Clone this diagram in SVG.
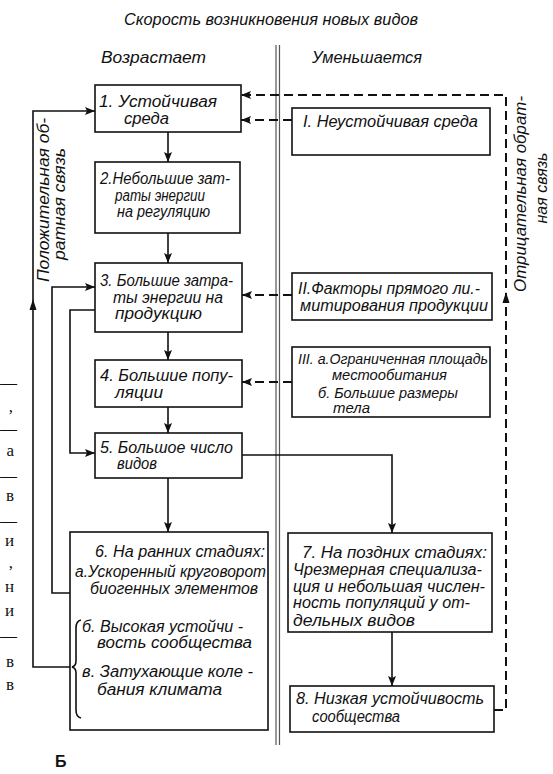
<svg xmlns="http://www.w3.org/2000/svg" width="553" height="774" viewBox="0 0 553 774">
<defs>
<marker id="ah" viewBox="0 0 10 8" refX="10" refY="4" markerWidth="10" markerHeight="8" markerUnits="userSpaceOnUse" orient="auto">
<path d="M0,0 L10,4 L0,8 L2,4 z" fill="#111"/>
</marker>
<style>
.box{fill:#fff;stroke:#111;stroke-width:1.6}
.t{font-family:"Liberation Sans",Arial,sans-serif;font-style:italic;font-size:16px;fill:#111}
.t15{font-family:"Liberation Sans",Arial,sans-serif;font-style:italic;font-size:14.5px;fill:#111}
.h{font-family:"Liberation Sans",Arial,sans-serif;font-style:italic;font-size:17px;fill:#111}
.s{fill:none;stroke:#111;stroke-width:1.6}
.d{fill:none;stroke:#111;stroke-width:2;stroke-dasharray:9 5}
.c{stroke:#555;stroke-width:1.2}
.m{font-family:"Liberation Serif","Times New Roman",serif;font-size:17px;fill:#111}
</style>
</defs>
<rect width="553" height="774" fill="#fff"/>

<g id="headers">
<text class="h" x="124" y="25" textLength="294" lengthAdjust="spacingAndGlyphs">Скорость возникновения новых видов</text>
<text class="h" x="101" y="63" textLength="105" lengthAdjust="spacingAndGlyphs">Возрастает</text>
<text class="h" x="312" y="63" textLength="110" lengthAdjust="spacingAndGlyphs">Уменьшается</text>
</g>

<g id="divider">
<line class="c" x1="276" y1="45" x2="276" y2="745"/>
<line class="c" x1="279.5" y1="45" x2="279.5" y2="745"/>
</g>

<g id="margin-fragments">
<text class="m" x="17" y="388" text-anchor="end">—</text>
<text class="m" x="13" y="412" text-anchor="end">,</text>
<text class="m" x="17" y="434" text-anchor="end">—</text>
<text class="m" x="14" y="456" text-anchor="end">а</text>
<text class="m" x="17" y="481" text-anchor="end">—</text>
<text class="m" x="14" y="501" text-anchor="end">в</text>
<text class="m" x="17" y="526" text-anchor="end">—</text>
<text class="m" x="14" y="546" text-anchor="end">и</text>
<text class="m" x="13" y="568" text-anchor="end">,</text>
<text class="m" x="14" y="592" text-anchor="end">н</text>
<text class="m" x="14" y="616" text-anchor="end">и</text>
<text class="m" x="17" y="641" text-anchor="end">—</text>
<text class="m" x="14" y="667" text-anchor="end">в</text>
<text class="m" x="14" y="690" text-anchor="end">в</text>
</g>

<g id="connectors">
<path class="s" d="M73,667 H33 V111 H95" marker-end="url(#ah)"/>
<polygon points="33,299 29.5,310 36.5,310" fill="#111"/>
<path class="s" d="M70,593 H52 V287 H95" marker-end="url(#ah)"/>
<path class="s" d="M95,310 H70 V453 H95" marker-end="url(#ah)"/>
<path class="s" d="M168,132 V162" marker-end="url(#ah)"/>
<path class="s" d="M168,233 V263" marker-end="url(#ah)"/>
<path class="s" d="M168,332 V360" marker-end="url(#ah)"/>
<path class="s" d="M168,407 V433" marker-end="url(#ah)"/>
<path class="s" d="M168,478 V532" marker-end="url(#ah)"/>
<path class="s" d="M242,455 H392 V533" marker-end="url(#ah)"/>
<path class="s" d="M392,632 V686" marker-end="url(#ah)"/>
<path class="d" d="M494,710 H506 V95 H241" marker-end="url(#ah)"/>
<polygon points="506,292 502.5,303 509.5,303" fill="#111"/>
<path class="d" d="M292,120 H241" marker-end="url(#ah)"/>
<path class="d" d="M292,295 H242" marker-end="url(#ah)"/>
<path class="d" d="M292,382 H242" marker-end="url(#ah)"/>
</g>

<g id="label-positive">
<text class="t" transform="translate(49,200) rotate(-90)" text-anchor="middle" textLength="164" lengthAdjust="spacingAndGlyphs">Положительная об-</text>
<text class="t" transform="translate(65,204) rotate(-90)" text-anchor="middle" textLength="112" lengthAdjust="spacingAndGlyphs">ратная связь</text>
</g>

<g id="label-negative">
<text class="t" transform="translate(526,194) rotate(-90)" text-anchor="middle" textLength="196" lengthAdjust="spacingAndGlyphs">Отрицательная обрат-</text>
<text class="t" transform="translate(547,188) rotate(-90)" text-anchor="middle" textLength="71" lengthAdjust="spacingAndGlyphs">ная связь</text>
</g>

<g id="node1">
<rect class="box" x="95" y="85" width="146" height="47"/>
<text class="t" x="99" y="107" textLength="118" lengthAdjust="spacingAndGlyphs">1. Устойчивая</text>
<text class="t" x="124" y="124" textLength="45" lengthAdjust="spacingAndGlyphs">среда</text>
</g>

<g id="node2">
<rect class="box" x="95" y="162" width="145" height="71"/>
<text class="t" x="100" y="184" textLength="130" lengthAdjust="spacingAndGlyphs">2.Небольшие зат-</text>
<text class="t" x="115" y="201" textLength="90" lengthAdjust="spacingAndGlyphs">раты энергии</text>
<text class="t" x="117" y="217" textLength="93" lengthAdjust="spacingAndGlyphs">на регуляцию</text>
</g>

<g id="node3">
<rect class="box" x="95" y="263" width="147" height="69"/>
<text class="t" x="100" y="286" textLength="133" lengthAdjust="spacingAndGlyphs">3. Большие затра-</text>
<text class="t" x="113" y="303" textLength="110" lengthAdjust="spacingAndGlyphs">ты энергии на</text>
<text class="t" x="115" y="319" textLength="87" lengthAdjust="spacingAndGlyphs">продукцию</text>
</g>

<g id="node4">
<rect class="box" x="95" y="360" width="147" height="47"/>
<text class="t" x="100" y="381" textLength="133" lengthAdjust="spacingAndGlyphs">4. Большие попу-</text>
<text class="t" x="115" y="398" textLength="48" lengthAdjust="spacingAndGlyphs">ляции</text>
</g>

<g id="node5">
<rect class="box" x="95" y="433" width="147" height="45"/>
<text class="t" x="100" y="453" textLength="133" lengthAdjust="spacingAndGlyphs">5. Большое число</text>
<text class="t" x="117" y="469" textLength="40" lengthAdjust="spacingAndGlyphs">видов</text>
</g>

<g id="node6">
<rect class="box" x="70" y="532" width="198" height="198"/>
<text class="t" x="95" y="557" textLength="170" lengthAdjust="spacingAndGlyphs">6. На ранних стадиях:</text>
<text class="t" x="75" y="577" textLength="191" lengthAdjust="spacingAndGlyphs">а.Ускоренный круговорот</text>
<text class="t" x="90" y="594" textLength="168" lengthAdjust="spacingAndGlyphs">биогенных элементов</text>
<text class="t" x="82" y="632" textLength="161" lengthAdjust="spacingAndGlyphs">б. Высокая устойчи -</text>
<text class="t" x="97" y="648" textLength="155" lengthAdjust="spacingAndGlyphs">вость сообщества</text>
<text class="t" x="82" y="677" textLength="171" lengthAdjust="spacingAndGlyphs">в. Затухающие коле -</text>
<text class="t" x="97" y="695" textLength="125" lengthAdjust="spacingAndGlyphs">бания климата</text>
<path class="s" d="M81,620 Q76,621 76,628 V661 Q76,666 72,667 Q76,668 76,673 V710 Q76,717 81,718"/>
</g>

<g id="nodeI">
<rect class="box" x="292" y="108" width="198" height="47"/>
<text class="t" x="303" y="127" textLength="175" lengthAdjust="spacingAndGlyphs">I. Неустойчивая среда</text>
</g>

<g id="nodeII">
<rect class="box" x="292" y="273" width="200" height="47"/>
<text class="t" x="298" y="294" textLength="182" lengthAdjust="spacingAndGlyphs">II.Факторы прямого ли.-</text>
<text class="t" x="300" y="311" textLength="188" lengthAdjust="spacingAndGlyphs">митирования продукции</text>
</g>

<g id="nodeIII">
<rect class="box" x="292" y="347" width="198" height="70"/>
<text class="t15" x="298" y="364" textLength="190" lengthAdjust="spacingAndGlyphs">III. а.Ограниченная площадь</text>
<text class="t15" x="332" y="380" textLength="115" lengthAdjust="spacingAndGlyphs">местообитания</text>
<text class="t15" x="318" y="398" textLength="140" lengthAdjust="spacingAndGlyphs">б. Большие размеры</text>
<text class="t15" x="333" y="413" textLength="37" lengthAdjust="spacingAndGlyphs">тела</text>
</g>

<g id="node7">
<rect class="box" x="288" y="533" width="204" height="99"/>
<text class="t" x="302" y="558" textLength="185" lengthAdjust="spacingAndGlyphs">7. На поздних стадиях:</text>
<text class="t" x="293" y="575" textLength="189" lengthAdjust="spacingAndGlyphs">Чрезмерная специализа-</text>
<text class="t" x="293" y="592" textLength="192" lengthAdjust="spacingAndGlyphs">ция и небольшая числен-</text>
<text class="t" x="293" y="608" textLength="177" lengthAdjust="spacingAndGlyphs">ность популяций у от-</text>
<text class="t" x="293" y="626" textLength="122" lengthAdjust="spacingAndGlyphs">дельных видов</text>
</g>

<g id="node8">
<rect class="box" x="290" y="686" width="204" height="46"/>
<text class="t" x="296" y="704" textLength="188" lengthAdjust="spacingAndGlyphs">8. Низкая устойчивость</text>
<text class="t" x="312" y="722" textLength="88" lengthAdjust="spacingAndGlyphs">сообщества</text>
</g>

<g id="figure-letter">
<text x="55" y="767" font-family="Liberation Sans, Arial, sans-serif" font-size="16" font-weight="bold" fill="#111">Б</text>
</g>
</svg>
